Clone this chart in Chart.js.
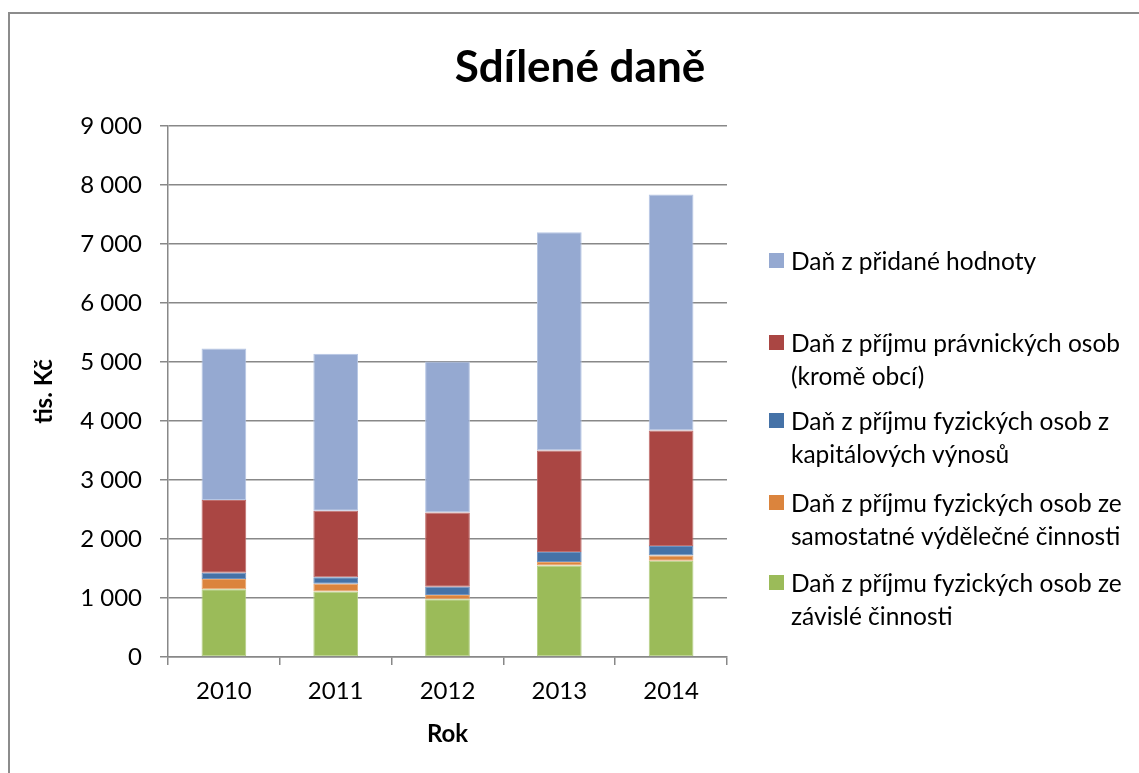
<!DOCTYPE html>
<html>
<head>
<meta charset="utf-8">
<script src="https://cdn.jsdelivr.net/npm/chart.js@4.4.1/dist/chart.umd.min.js"></script>
<style>
    html, body { margin: 0; padding: 0; background: #fff; overflow: hidden; }
    #frame {
        position: absolute; left: 8px; top: 12px; width: 2000px; height: 2000px;
        border: 2px solid #8c8c8c; box-sizing: border-box;
    }
    #wrap { position: absolute; left: 0; top: 0; width: 1139px; height: 773px; }
</style>
</head>
<body>
<div id="frame"></div>
<div id="wrap"><canvas id="chart" width="1139" height="773"></canvas></div>
<script>
const years = ['2010', '2011', '2012', '2013', '2014'];

// tis. Kč, stacked from bottom
const zavisla = [1150, 1110, 980, 1550, 1630];
const samostatna = [170, 130, 70, 60, 90];
const kapitalove = [110, 110, 140, 170, 160];
const pravnicke = [1230, 1130, 1260, 1720, 1960];
const dph = [2570, 2660, 2560, 3700, 4000];

const seriesLabels = [
    ['Daň z příjmu fyzických osob ze', 'závislé činnosti'],
    ['Daň z příjmu fyzických osob ze', 'samostatné výdělečné činnosti'],
    ['Daň z příjmu fyzických osob z', 'kapitálových výnosů'],
    ['Daň z příjmu právnických osob', '(kromě obcí)'],
    ['Daň z přidané hodnoty']
];
const seriesColors = ['#9BBB59', '#DB843D', '#4572A7', '#AA4643', '#95A9D1'];
const seriesBorders = ['#b5cf85', '#eaa56c', '#6f93c0', '#c06f6d', '#b6c6e4'];
const seriesData = [zavisla, samostatna, kapitalove, pravnicke, dph];

const FONT = 'Lato, "Open Sans", sans-serif';

const fmt = v => String(v).replace(/\B(?=(\d{3})+(?!\d))/g, ' ');

// title and legend drawn in the free space right of the plot
const decorPlugin = {
    id: 'decor',
    afterDraw(chart) {
        const ctx = chart.ctx;
        ctx.save();
        ctx.fillStyle = '#000';
        ctx.font = 'bold 44px ' + FONT;
        ctx.textAlign = 'center';
        ctx.textBaseline = 'middle';
        ctx.fillText('Sdílené daně', 580, 68);

        const tops = [582, 502, 420, 342, 260];
        ctx.font = '24.5px ' + FONT;
        ctx.textAlign = 'left';
        for (let i = 0; i < seriesLabels.length; i++) {
            const y = tops[i];
            ctx.fillStyle = seriesColors[i];
            ctx.fillRect(769, y - 7, 15, 15);
            ctx.fillStyle = '#000';
            seriesLabels[i].forEach((line, j) => {
                ctx.fillText(line, 791, y + 2 + j * 33);
            });
        }
        ctx.restore();
    }
};

new Chart(document.getElementById('chart').getContext('2d'), {
    type: 'bar',
    data: {
        labels: years,
        datasets: seriesData.map((d, i) => ({
            label: seriesLabels[i].join(' '),
            data: d,
            backgroundColor: seriesColors[i],
            borderColor: seriesBorders[i],
            borderWidth: 1,
            borderSkipped: false,
            categoryPercentage: 1,
            barPercentage: 0.4
        }))
    },
    options: {
        responsive: false,
        animation: false,
        layout: {
            padding: { top: 126, left: 0, right: 412, bottom: 0 }
        },
        plugins: {
            legend: { display: false },
            title: { display: false },
            tooltip: { enabled: false }
        },
        scales: {
            x: {
                stacked: true,
                afterFit: scale => { scale.height = 116; },
                grid: {
                    drawOnChartArea: false,
                    drawTicks: true,
                    tickLength: 8,
                    color: '#888',
                    lineWidth: 1.5
                },
                border: { color: '#888', width: 1.5 },
                ticks: {
                    color: '#000',
                    padding: 12,
                    font: { family: FONT, size: 24 }
                },
                title: {
                    display: true,
                    text: 'Rok',
                    color: '#000',
                    font: { family: FONT, size: 24, weight: 'bold' },
                    padding: { top: 8, bottom: 24 }
                }
            },
            y: {
                stacked: true,
                min: 0,
                max: 9000,
                afterFit: scale => { scale.width = 168; },
                grid: {
                    color: '#888',
                    lineWidth: 1.5,
                    tickLength: 8
                },
                border: { color: '#888', width: 1.5 },
                ticks: {
                    stepSize: 1000,
                    color: '#000',
                    padding: 18,
                    font: { family: FONT, size: 24 },
                    callback: v => fmt(v)
                },
                title: {
                    display: true,
                    text: 'tis. Kč',
                    color: '#000',
                    font: { family: FONT, size: 24, weight: 'bold' },
                    padding: { top: 30, bottom: 0 }
                }
            }
        }
    },
    plugins: [decorPlugin]
});
</script>
</body>
</html>
